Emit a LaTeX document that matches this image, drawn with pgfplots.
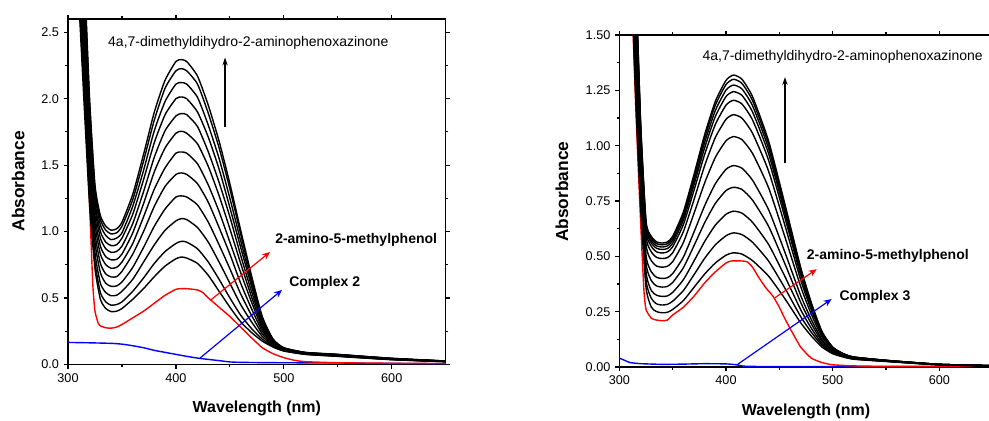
\documentclass[border=0pt]{standalone}
\usepackage{fontspec}
\setmainfont{Liberation Sans}
\usepackage{pgfplots}
\usepackage{pgfplotstable}
\pgfplotsset{compat=1.18}
\usetikzlibrary{arrows.meta}

\pgfplotstableread{
wl c1 c2 c3 c4 c5 c6 c7 c8 c9 c10 c11 c12
310 3.40 3.37 3.32 3.28 3.22 3.16 3.10 3.03 2.95 2.88 2.80 2.75
315 2.95 2.90 2.83 2.76 2.68 2.59 2.48 2.38 2.26 2.14 2.03 1.95
320 2.00 1.96 1.91 1.85 1.78 1.71 1.63 1.54 1.45 1.36 1.26 1.20
325 1.35 1.32 1.28 1.23 1.18 1.12 1.06 0.99 0.92 0.84 0.77 0.72
330 1.12 1.09 1.05 1.00 0.95 0.89 0.83 0.76 0.69 0.61 0.54 0.49
335 1.04 1.01 0.97 0.92 0.87 0.81 0.75 0.68 0.61 0.54 0.47 0.42
340 1.01 0.982 0.939 0.894 0.843 0.787 0.723 0.658 0.587 0.516 0.445 0.397
345 1.02 0.99 0.95 0.90 0.85 0.79 0.73 0.66 0.59 0.52 0.45 0.40
350 1.07 1.04 0.99 0.95 0.89 0.83 0.77 0.70 0.62 0.55 0.47 0.42
360 1.28 1.24 1.19 1.13 1.06 0.99 0.91 0.83 0.73 0.64 0.55 0.49
370 1.58 1.53 1.46 1.39 1.30 1.21 1.11 1.00 0.88 0.77 0.65 0.57
380 1.90 1.84 1.76 1.67 1.56 1.45 1.32 1.19 1.04 0.90 0.76 0.66
390 2.14 2.08 1.98 1.88 1.76 1.63 1.48 1.34 1.17 1.01 0.85 0.74
400 2.28 2.21 2.11 2.00 1.87 1.74 1.59 1.43 1.26 1.08 0.91 0.795
405 2.294 2.226 2.121 2.013 1.888 1.755 1.599 1.441 1.268 1.097 0.926 0.808
410 2.28 2.21 2.11 2.00 1.88 1.74 1.59 1.43 1.26 1.09 0.92 0.80
420 2.17 2.11 2.01 1.90 1.79 1.66 1.51 1.36 1.20 1.03 0.87 0.76
430 1.95 1.89 1.80 1.71 1.60 1.49 1.35 1.22 1.07 0.92 0.77 0.67
440 1.68 1.63 1.55 1.47 1.37 1.27 1.15 1.03 0.90 0.77 0.64 0.55
450 1.36 1.32 1.25 1.18 1.11 1.02 0.92 0.83 0.72 0.61 0.50 0.43
460 1.01 0.98 0.93 0.88 0.82 0.76 0.69 0.61 0.53 0.45 0.37 0.32
470 0.67 0.65 0.62 0.59 0.55 0.51 0.47 0.42 0.37 0.32 0.27 0.24
480 0.36 0.35 0.34 0.325 0.31 0.29 0.27 0.25 0.23 0.21 0.19 0.175
490 0.19 0.187 0.183 0.179 0.174 0.168 0.162 0.156 0.149 0.142 0.135 0.13
500 0.125 0.124 0.122 0.12 0.118 0.116 0.113 0.111 0.108 0.105 0.102 0.10
520 0.09 0.089 0.088 0.087 0.086 0.085 0.083 0.081 0.080 0.078 0.076 0.075
550 0.075 0.074 0.073 0.072 0.071 0.070 0.068 0.066 0.065 0.063 0.061 0.06
600 0.045 0.045 0.044 0.043 0.042 0.041 0.040 0.039 0.038 0.037 0.036 0.035
650 0.025 0.025 0.024 0.024 0.024 0.023 0.023 0.022 0.022 0.021 0.020 0.020
}\leftdata

\pgfplotstableread{
wl c1 c2 c3 c4 c5 c6 c7 c8 c9 c10 c11 c12
310 2.20 2.19 2.19 2.18 2.16 2.14 2.11 2.07 2.04 2.01 1.98 1.95
315 1.80 1.79 1.77 1.75 1.72 1.68 1.61 1.52 1.45 1.38 1.31 1.25
320 1.10 1.09 1.08 1.06 1.05 1.02 0.97 0.91 0.86 0.81 0.76 0.72
325 0.66 0.653 0.643 0.632 0.617 0.593 0.556 0.507 0.471 0.43 0.394 0.36
330 0.59 0.58 0.57 0.56 0.545 0.52 0.48 0.43 0.39 0.345 0.31 0.27
335 0.565 0.557 0.547 0.536 0.52 0.495 0.456 0.405 0.366 0.324 0.285 0.25
340 0.56 0.552 0.542 0.531 0.515 0.49 0.451 0.40 0.361 0.319 0.28 0.245
345 0.565 0.557 0.547 0.535 0.52 0.494 0.455 0.403 0.364 0.321 0.283 0.247
350 0.59 0.582 0.572 0.559 0.543 0.516 0.476 0.422 0.382 0.337 0.297 0.26
360 0.70 0.69 0.678 0.663 0.643 0.611 0.562 0.496 0.448 0.394 0.345 0.30
370 0.87 0.858 0.841 0.823 0.798 0.756 0.694 0.61 0.548 0.479 0.417 0.36
380 1.05 1.035 1.015 0.991 0.961 0.91 0.832 0.729 0.652 0.567 0.491 0.42
390 1.20 1.183 1.159 1.132 1.096 1.037 0.947 0.828 0.739 0.641 0.552 0.47
400 1.295 1.276 1.251 1.222 1.183 1.119 1.022 0.893 0.797 0.69 0.593 0.505
407 1.319 1.30 1.274 1.244 1.205 1.14 1.041 0.91 0.812 0.704 0.606 0.516
415 1.30 1.281 1.256 1.227 1.188 1.124 1.027 0.898 0.802 0.695 0.598 0.51
425 1.22 1.202 1.179 1.151 1.115 1.055 0.964 0.843 0.753 0.653 0.563 0.48
440 1.02 1.005 0.986 0.963 0.933 0.884 0.809 0.71 0.635 0.553 0.478 0.41
455 0.74 0.73 0.716 0.70 0.679 0.644 0.591 0.521 0.469 0.411 0.358 0.31
470 0.45 0.444 0.436 0.427 0.415 0.394 0.364 0.323 0.292 0.259 0.228 0.20
480 0.29 0.286 0.282 0.276 0.269 0.257 0.238 0.214 0.195 0.175 0.157 0.14
490 0.16 0.158 0.156 0.153 0.15 0.144 0.136 0.124 0.116 0.106 0.098 0.09
500 0.09 0.089 0.088 0.087 0.086 0.083 0.08 0.075 0.071 0.067 0.063 0.06
510 0.06 0.06 0.059 0.059 0.058 0.057 0.055 0.052 0.051 0.049 0.047 0.045
520 0.045 0.045 0.044 0.044 0.044 0.043 0.042 0.040 0.039 0.037 0.036 0.035
550 0.03 0.03 0.03 0.03 0.029 0.029 0.028 0.027 0.027 0.026 0.026 0.025
600 0.012 0.012 0.012 0.012 0.012 0.012 0.011 0.011 0.011 0.010 0.010 0.010
650 0.006 0.006 0.006 0.006 0.006 0.006 0.006 0.005 0.005 0.005 0.005 0.005
}\rightdata

\pgfplotsset{
  specax/.style={
    scale only axis, anchor=south west,
    xmin=300, xmax=650, xtick={300,400,500,600},
    minor x tick num=1, minor y tick num=1,
    tick align=outside, major tick length=3.2pt, minor tick length=2pt,
    axis line style={line width=1pt},
    every tick/.style={line width=0.9pt, black},
    ticklabel style={font=\fontsize{9.5}{11}\selectfont},
    /pgf/number format/assume math mode=true,
    xlabel={Wavelength (nm)}, ylabel={Absorbance},
    xlabel style={font=\bfseries\fontsize{12}{14}\selectfont, anchor=center},
    ylabel style={font=\bfseries\fontsize{13}{15}\selectfont, anchor=center},
    every axis plot/.append style={smooth, tension=0.35, line width=1.05pt},
  },
}
\tikzset{
  ann/.style={font=\fontsize{10.5}{12}\selectfont, inner sep=0pt, anchor=west},
  annb/.style={font=\bfseries\fontsize{10.5}{12}\selectfont, inner sep=0pt, anchor=west},
}

\begin{document}
\begin{tikzpicture}
\useasboundingbox (0,0) rectangle (741.75pt,315.75pt);

% ---------- left panel ----------
\begin{axis}[specax,
  at={(51pt,42.5pt)}, width=283.3pt, height=259pt,
  ymin=0, ymax=2.6, ytick={0,0.5,1,1.5,2,2.5},
  yticklabel style={/pgf/number format/.cd, fixed, fixed zerofill, precision=1},
  xlabel style={at={(axis description cs:0.5,-0.127)}},
  ylabel style={at={(axis description cs:-0.132,0.53)}},
]
\addplot[blue, tension=0.3] coordinates {(300,0.165)(320,0.162)(340,0.158)(350,0.152)(360,0.14)(370,0.125)(380,0.105)(390,0.09)(400,0.075)(410,0.06)(420,0.047)(430,0.037)(440,0.028)(450,0.018)(460,0.015)(480,0.013)(500,0.012)(550,0.01)(600,0.007)(650,0.005)};
\addplot[red, tension=0.3] coordinates {(305,3.5)(310,2.85)(315,2.1)(320,1.2)(323,0.6)(325,0.40)(328,0.31)(330,0.29)(335,0.275)(340,0.272)(345,0.28)(350,0.30)(360,0.35)(370,0.40)(380,0.46)(390,0.52)(400,0.565)(405,0.57)(410,0.57)(420,0.56)(425,0.54)(430,0.50)(440,0.43)(450,0.36)(460,0.28)(470,0.20)(480,0.125)(490,0.08)(500,0.05)(510,0.03)(520,0.02)(550,0.012)(600,0.008)(650,0.006)};
\pgfplotsinvokeforeach{1,...,12}{\addplot[black] table[x=wl, y=c#1]{\leftdata};}
\node[ann] at (axis cs:337,2.42) {4a,7-dimethyldihydro-2-aminophenoxazinone};
\draw[black, line width=1pt, -{Stealth[length=6pt,width=4pt]}] (axis cs:445.5,1.79) -- (axis cs:445.5,2.31);
\node[annb] at (axis cs:491.8,0.936) {2-amino-5-methylphenol};
\draw[red, line width=0.9pt, -{Stealth[length=6pt,width=5pt]}] (axis cs:431.6,0.48) -- (axis cs:487.2,0.846);
\node[annb] at (axis cs:504.8,0.61) {Complex 2};
\draw[blue, line width=0.9pt, -{Stealth[length=6pt,width=5pt]}] (axis cs:422.3,0.047) -- (axis cs:498.3,0.56);
\end{axis}

% ---------- right panel ----------
\begin{axis}[specax,
  at={(464.5pt,40.5pt)}, width=280pt, height=249pt,
  ymin=0, ymax=1.5, ytick={0,0.25,0.5,0.75,1,1.25,1.5},
  yticklabel style={/pgf/number format/.cd, fixed, fixed zerofill, precision=2},
  xlabel style={at={(axis description cs:0.5,-0.135)}},
  ylabel style={at={(axis description cs:-0.154,0.528)}},
]
\addplot[blue, tension=0.3] coordinates {(300,0.04)(305,0.03)(310,0.02)(320,0.015)(340,0.012)(360,0.013)(380,0.015)(400,0.014)(410,0.01)(415,0.005)(420,0.003)(450,0.002)(650,0.002)};
\addplot[red, tension=0.3] coordinates {(305,2.6)(310,1.95)(313,1.5)(316,1.1)(320,0.65)(323,0.35)(325,0.26)(330,0.22)(335,0.212)(340,0.209)(345,0.212)(350,0.235)(360,0.27)(370,0.32)(380,0.38)(390,0.43)(400,0.47)(405,0.479)(415,0.479)(420,0.475)(425,0.45)(430,0.41)(437,0.36)(444,0.32)(450,0.27)(455,0.22)(460,0.175)(470,0.09)(480,0.04)(490,0.02)(500,0.01)(520,0.005)(550,0.003)(650,0.002)};
\pgfplotsinvokeforeach{1,...,12}{\addplot[black] table[x=wl, y=c#1]{\rightdata};}
\node[ann] at (axis cs:377.8,1.40) {4a,7-dimethyldihydro-2-aminophenoxazinone};
\draw[black, line width=1pt, -{Stealth[length=6pt,width=4pt]}] (axis cs:455.3,0.92) -- (axis cs:455.3,1.31);
\node[annb] at (axis cs:475.6,0.50) {2-amino-5-methylphenol};
\draw[red, line width=0.9pt, -{Stealth[length=6pt,width=5pt]}] (axis cs:445.9,0.313) -- (axis cs:485,0.442);
\node[annb] at (axis cs:506.2,0.318) {Complex 3};
\draw[blue, line width=0.9pt, -{Stealth[length=6pt,width=5pt]}] (axis cs:410,0.009) -- (axis cs:499,0.307);
\end{axis}
\end{tikzpicture}
\end{document}
